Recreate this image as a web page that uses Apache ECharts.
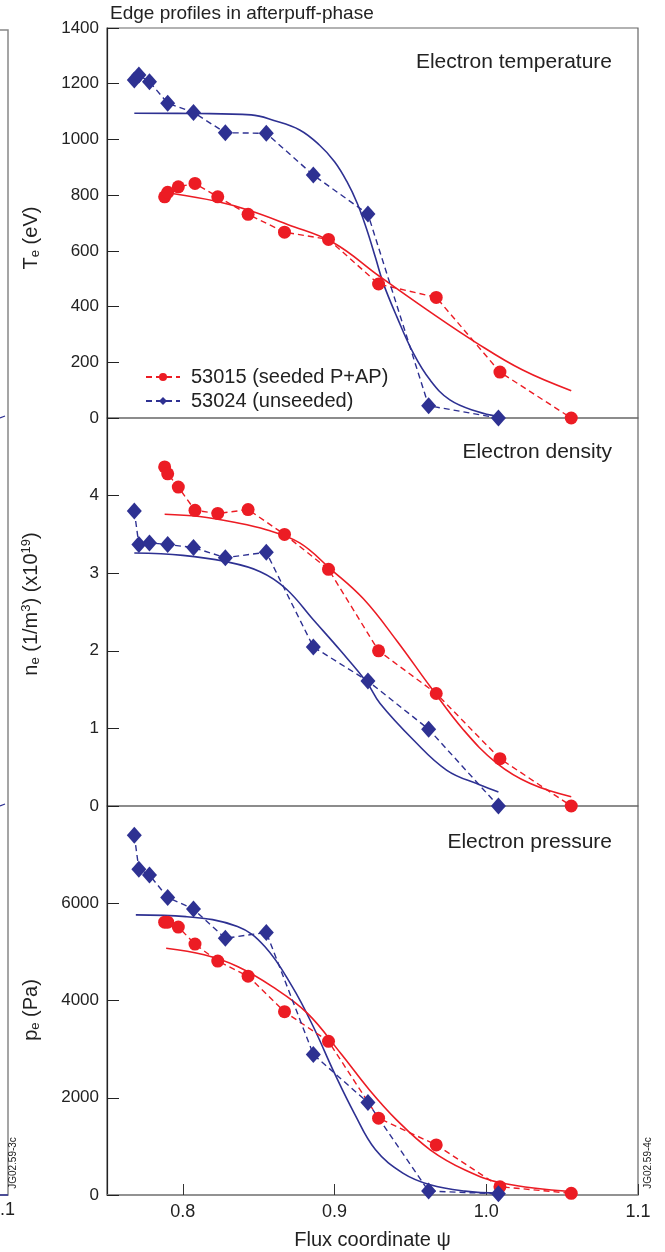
<!DOCTYPE html>
<html>
<head>
<meta charset="utf-8">
<script src="https://cdn.jsdelivr.net/npm/echarts@6/dist/echarts.min.js"></script>
<style>html,body{margin:0;padding:0;background:#fff;}#c{width:665px;height:1252px;}</style>
</head>
<body>
<div id="c"></div>
<script>
// ---- data ----
const psiRed  = [0.788, 0.790, 0.797, 0.808, 0.823, 0.843, 0.867, 0.896, 0.929, 0.967, 1.009, 1.056];
const psiBlue = [0.768, 0.771, 0.778, 0.790, 0.807, 0.828, 0.855, 0.886, 0.922, 0.962, 1.008];

const teRed  = [794, 810, 830, 842, 794, 731, 667, 641, 481, 433, 165, 0];
const teBlue = [1213, 1231, 1207, 1130, 1097, 1024, 1022, 872, 732, 44, 0];
const neRed  = [4.37, 4.28, 4.11, 3.81, 3.77, 3.82, 3.50, 3.05, 2.00, 1.45, 0.61, 0];
const neBlue = [3.80, 3.37, 3.39, 3.37, 3.33, 3.20, 3.27, 2.05, 1.61, 0.99, 0];
const peRed  = [5610, 5610, 5510, 5160, 4810, 4500, 3770, 3160, 1580, 1030, 170, 35];
const peBlue = [7400, 6700, 6580, 6120, 5880, 5280, 5400, 2890, 1900, 80, 25];

// fitted profiles
const teRedFitPsi  = [0.793, 0.822, 0.844, 0.869, 0.899, 0.930, 0.961, 0.994, 1.024, 1.056];
const teRedFit     = [806, 778, 745, 695, 630, 507, 388, 268, 172, 98];
const teBlueFitPsi = [0.768, 0.810, 0.845, 0.860, 0.877, 0.890, 0.900, 0.908, 0.915, 0.921, 0.927, 0.932, 0.941, 0.952, 0.963, 0.976, 0.994, 1.008];
const teBlueFit    = [1094, 1093, 1088, 1068, 1034, 980, 920, 850, 770, 680, 575, 485, 364, 232, 136, 65, 23, 5];
const neRedFitPsi  = [0.788, 0.811, 0.833, 0.855, 0.877, 0.897, 0.919, 0.941, 0.963, 0.985, 1.007, 1.029, 1.056];
const neRedFit     = [3.76, 3.73, 3.66, 3.56, 3.39, 3.06, 2.67, 2.13, 1.54, 0.98, 0.55, 0.29, 0.12];
const neBlueFitPsi = [0.768, 0.800, 0.828, 0.851, 0.868, 0.886, 0.904, 0.921, 0.930, 0.952, 0.974, 0.996, 1.008];
const neBlueFit    = [3.26, 3.23, 3.15, 3.02, 2.80, 2.40, 2.00, 1.60, 1.32, 0.85, 0.46, 0.27, 0.18];
const peRedFitPsi  = [0.789, 0.814, 0.836, 0.859, 0.882, 0.904, 0.923, 0.941, 0.963, 0.986, 1.011, 1.056];
const peRedFit     = [5075, 4940, 4700, 4285, 3740, 2915, 2160, 1540, 930, 515, 240, 70];
const peBlueFitPsi = [0.769, 0.802, 0.836, 0.854, 0.872, 0.886, 0.900, 0.913, 0.927, 0.945, 0.963, 0.986, 1.009];
const peBlueFit    = [5760, 5725, 5520, 5110, 4290, 3460, 2500, 1680, 930, 450, 210, 80, 35];

const xTicks = [0.8, 0.9, 1.0, 1.1];
const nameRed = '53015 (seeded P+AP)';
const nameBlue = '53024 (unseeded)';
const panelTitles = ['Electron temperature', 'Electron density', 'Electron pressure'];

// ---- chart ----
const RED = '#ec1c24', BLUE = '#2e3192';
const FONT = '"Liberation Sans", Arial, Helvetica, sans-serif';
const zip = (a, b) => a.map((v, i) => [v, b[i]]);

const grids = [
  {left: 107, right: 27, top: 28, height: 390},
  {left: 107, right: 27, top: 418, height: 388},
  {left: 107, right: 27, top: 806, height: 389}
].map(g => Object.assign(g, {show: true, borderColor: '#666', borderWidth: 1.2, backgroundColor: 'transparent', containLabel: false, outerBoundsMode: 'none'}));

const yDefs = [
  {min: 0, max: 1400, interval: 200, showMax: true},
  {min: 0, max: 5, interval: 1, showMax: false},
  {min: 0, max: 8000, interval: 2000, showMax: false}
];

const xAxes = [0, 1, 2].map(i => ({
  type: 'value', gridIndex: i, min: 0.75, max: 1.1,
  axisLine: {show: i === 2, lineStyle: {color: '#888', width: 1.5}},
  axisTick: {show: i === 2, inside: true, length: 11, customValues: xTicks, lineStyle: {color: '#333', width: 1}},
  axisLabel: {show: i === 2, customValues: xTicks, formatter: v => v.toFixed(1), fontSize: 18, color: '#222', fontFamily: FONT, margin: 8},
  splitLine: {show: false},
  name: i === 2 ? 'Flux coordinate ψ' : '',
  nameLocation: 'middle', nameGap: 35,
  nameTextStyle: {fontSize: 20, color: '#222', fontFamily: FONT}
}));

const yAxes = yDefs.map((d, i) => ({
  type: 'value', gridIndex: i, min: d.min, max: d.max, interval: d.interval,
  axisLine: {show: true, lineStyle: {color: '#222', width: 1.2}},
  axisTick: {show: true, inside: true, length: 12, lineStyle: {color: '#222', width: 1}},
  axisLabel: {showMaxLabel: d.showMax, formatter: v => String(v), fontSize: 17, color: '#222', fontFamily: FONT, margin: 8},
  splitLine: {show: false}
}));

function dashed(name, i, x, y, color, symbol, size) {
  return {
    name: name, type: 'line', xAxisIndex: i, yAxisIndex: i, data: zip(x, y),
    symbol: symbol, symbolSize: size, showSymbol: true,
    lineStyle: {color: color, width: 1.4, type: [6, 4]},
    itemStyle: {color: color}, z: 4, animation: false
  };
}
function solid(i, x, y, color) {
  return {
    name: 'fit', type: 'line', xAxisIndex: i, yAxisIndex: i, data: zip(x, y),
    smooth: 0.4, showSymbol: false, symbol: 'none',
    lineStyle: {color: color, width: 1.6}, z: 3, animation: false, silent: true
  };
}

const series = [
  solid(0, teBlueFitPsi, teBlueFit, BLUE),
  solid(0, teRedFitPsi, teRedFit, RED),
  dashed(nameRed, 0, psiRed, teRed, RED, 'circle', 13),
  dashed(nameBlue, 0, psiBlue, teBlue, BLUE, 'diamond', [15, 17]),
  solid(1, neBlueFitPsi, neBlueFit, BLUE),
  solid(1, neRedFitPsi, neRedFit, RED),
  dashed(nameRed, 1, psiRed, neRed, RED, 'circle', 13),
  dashed(nameBlue, 1, psiBlue, neBlue, BLUE, 'diamond', [15, 17]),
  solid(2, peBlueFitPsi, peBlueFit, BLUE),
  solid(2, peRedFitPsi, peRedFit, RED),
  dashed(nameRed, 2, psiRed, peRed, RED, 'circle', 13),
  dashed(nameBlue, 2, psiBlue, peBlue, BLUE, 'diamond', [15, 17])
];

const richName = {
  a: {fontSize: 20, fontFamily: FONT, color: '#222', lineHeight: 28, verticalAlign: 'middle'},
  s: {fontSize: 13, fontFamily: FONT, color: '#222', lineHeight: 28, verticalAlign: 'bottom', padding: [0, 0, 3, 0]},
  p: {fontSize: 13, fontFamily: FONT, color: '#222', lineHeight: 28, verticalAlign: 'top', padding: [3, 0, 0, 0]}
};

function yName(text, x, y) {
  return {type: 'text', x: x, y: y, rotation: Math.PI / 2,
    style: {text: text, rich: richName, align: 'center', verticalAlign: 'middle', fill: '#222'}};
}
function plainText(text, x, y, size, align, rot) {
  return {type: 'text', x: x, y: y, rotation: rot || 0,
    style: {text: text, fontSize: size, fontFamily: FONT, fill: '#222', align: align, verticalAlign: 'middle'}};
}

const graphic = [
  plainText('Edge profiles in afterpuff-phase', 110, 14, 19, 'left'),
  plainText(panelTitles[0], 612, 62, 21, 'right'),
  plainText(panelTitles[1], 612, 452, 21, 'right'),
  plainText(panelTitles[2], 612, 842, 21, 'right'),
  yName('{a|T}{s|e}{a| (eV)}', 31, 238),
  yName('{a|n}{s|e}{a| (1/m}{p|3}{a|) (x10}{p|19}{a|)}', 31, 604),
  yName('{a|p}{s|e}{a| (Pa)}', 31, 1010),
  // neighbouring figure fragments at the page edges
  {type: 'polyline', shape: {points: [[0, 30], [8, 30], [8, 1195], [0, 1195]]}, style: {stroke: '#888', lineWidth: 1.5, fill: null}},
  {type: 'line', shape: {x1: 0, y1: 1195, x2: 8, y2: 1195}, style: {stroke: BLUE, lineWidth: 1.5}},
  {type: 'line', shape: {x1: 0, y1: 418, x2: 5, y2: 416}, style: {stroke: BLUE, lineWidth: 1.2}},
  {type: 'line', shape: {x1: 0, y1: 806, x2: 5, y2: 804}, style: {stroke: BLUE, lineWidth: 1.2}},
  plainText('.1', 0, 1210, 18, 'left'),
  plainText('JG02.59-3c', 13, 1163, 10, 'center', Math.PI / 2),
  plainText('JG02.59-4c', 648, 1163, 10, 'center', Math.PI / 2)
];

const chart = echarts.init(document.getElementById('c'), null, {renderer: 'canvas'});
chart.setOption({
  animation: false,
  backgroundColor: '#fff',
  textStyle: {fontFamily: FONT},
  grid: grids,
  xAxis: xAxes,
  yAxis: yAxes,
  legend: {
    data: [nameRed, nameBlue], orient: 'vertical', left: 140, top: 362,
    itemWidth: 34, itemHeight: 10, itemGap: 4,
    textStyle: {fontSize: 20, lineHeight: 20, color: '#222', fontFamily: FONT, padding: [0, 0, 0, 6]},
    selectedMode: false
  },
  series: series,
  graphic: graphic
});
</script>
</body>
</html>
